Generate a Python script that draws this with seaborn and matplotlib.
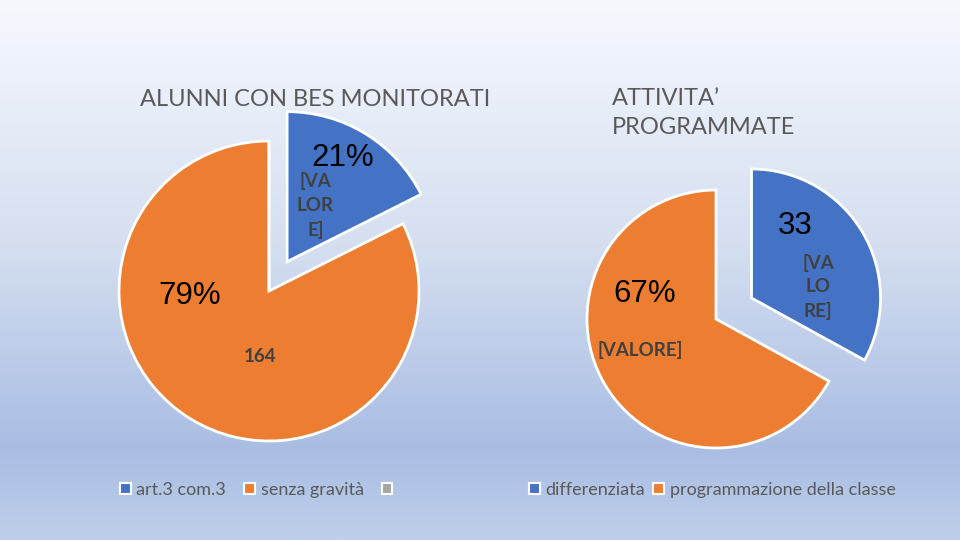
import numpy as np
import matplotlib
matplotlib.use("Agg")
import matplotlib.pyplot as plt
from matplotlib.patches import Patch
from matplotlib.colors import LinearSegmentedColormap
import seaborn as sns

# ---- data ----
left_title = "ALUNNI CON BES MONITORATI"
left_categories = ["art.3 com.3", "senza gravità", ""]
left_values = [35, 164, 0]            # wedge sizes as drawn
left_pct_labels = ["21%", "79%"]      # percentage labels as printed

right_title = "ATTIVITA’\nPROGRAMMATE"
right_categories = ["differenziata", "programmazione della classe"]
right_values = [33, 67]

sns.set_style("white")
plt.rcParams["font.family"] = ["Lato", "DejaVu Sans"]

colors = ["#4472C4", "#ED7D31", "#A5A5A5"]
dark = "#404040"
gray = "#595959"

W, H = 960, 540
fig = plt.figure(figsize=(W / 100, H / 100), dpi=100)

# background gradient
bg = fig.add_axes([0, 0, 1, 1], zorder=-10)
cmap = LinearSegmentedColormap.from_list(
    "bg", [(0.0, "#f6f8fd"), (0.1, "#eff3fb"), (0.45, "#d5dff0"),
           (0.83, "#a9bde3"), (1.0, "#bfcfea")])
grad = np.linspace(0, 1, 256).reshape(-1, 1)
bg.imshow(grad, aspect="auto", cmap=cmap, extent=[0, 1, 0, 1], origin="upper")
bg.set_axis_off()

SPAN = 1.6


def pie_axes(cx, cy, r, span=SPAN):
    size = 2 * span * r
    ax = fig.add_axes([(cx - size / 2) / W, (H - cy - size / 2) / H, size / W, size / H])
    ax.set_axis_off()
    ax.patch.set_alpha(0)
    return ax


def fix_limits(ax, span=SPAN):
    ax.set_xlim(-span, span)
    ax.set_ylim(-span, span)
    ax.set_aspect("equal")


PCT = dict(ha="center", va="center", fontsize=22.5, color="black",
           family=["Liberation Sans"])
VAL = dict(ha="center", va="center", fontsize=13.5, color=dark, fontweight="bold")

# left pie
axL = pie_axes(269, 291, 150)
axL.pie(left_values, colors=colors[:len(left_values)], startangle=90, counterclock=False,
        explode=[0.23, 0, 0], radius=1,
        wedgeprops=dict(edgecolor="white", linewidth=2))
fix_limits(axL)
axL.text(0.49, 0.89, left_pct_labels[0], **PCT)
axL.text(0.31, 0.57, "[VA\nLOR\nE]", linespacing=1.45, **VAL)
axL.text(-0.53, -0.03, left_pct_labels[1], **PCT)
axL.text(-0.06, -0.44, f"{left_values[1]}", **VAL)

# right pie
axR = pie_axes(716, 319, 129)
axR.pie(right_values, colors=colors[:2], startangle=90, counterclock=False,
        explode=[0.32, 0], radius=1,
        wedgeprops=dict(edgecolor="white", linewidth=2))
fix_limits(axR)
rtot = sum(right_values)
axR.text(0.61, 0.72, f"{right_values[0]}", **PCT)
axR.text(0.79, 0.25, "[VA\nLO\nRE]", linespacing=1.45, **VAL)
axR.text(-0.55, 0.19, f"{right_values[1] / rtot:.0%}", **PCT)
axR.text(-0.59, -0.24, "[VALORE]", **VAL)

# titles
fig.text(315 / W, 1 - 100 / H, left_title, ha="center", va="center", fontsize=17, color=gray)
fig.text(612 / W, 1 - 113 / H, right_title, ha="left", va="center", fontsize=17,
         color=gray, linespacing=1.5)

# legends
def legend(cats, anchor, colspace):
    handles = [Patch(facecolor=colors[i], edgecolor="white", linewidth=1.5, label=c)
               for i, c in enumerate(cats)]
    return fig.legend(handles=handles, loc="center left", bbox_to_anchor=anchor,
                      ncol=len(cats), frameon=False, fontsize=13, labelcolor=gray,
                      handlelength=0.6, handleheight=0.6, handletextpad=0.3,
                      columnspacing=colspace)

legend(left_categories, (104 / W, 1 - 490 / H), 1.0)
legend(right_categories, (513 / W, 1 - 490 / H), 0.45)

fig.savefig("out.png", dpi=100)
